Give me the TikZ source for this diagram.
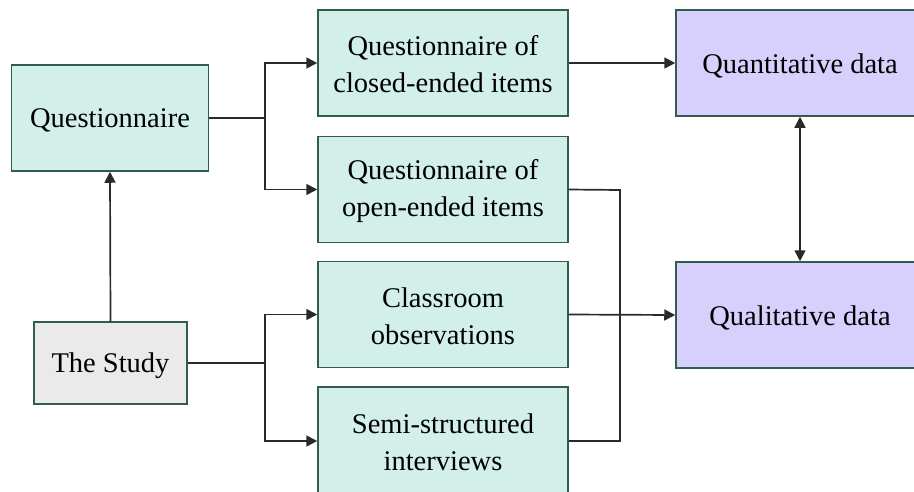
\documentclass[tikz,border=0pt]{standalone}
\usepackage{fontspec}
\setmainfont{Liberation Serif}
\usetikzlibrary{arrows.meta}
\definecolor{tealfill}{HTML}{D2EFEA}
\definecolor{purpfill}{HTML}{D8D0FC}
\definecolor{greyfill}{HTML}{EAEAEA}
\definecolor{boxline}{HTML}{2F5D4F}
\definecolor{conline}{HTML}{2A2A2A}
\tikzset{
  box/.style={draw=boxline, line width=1.5pt, rectangle, inner sep=0pt},
  txt/.style={align=center, inner sep=0pt, yshift=-2.5pt,
    font=\fontsize{28.5}{37}\selectfont, text=black},
  txttwo/.style={txt, yshift=1pt},
  tbox/.style={box, fill=tealfill, minimum width=250pt, minimum height=106pt},
  pbox/.style={box, fill=purpfill, minimum width=248pt, minimum height=106pt},
  conn/.style={draw=conline, line width=1.7pt},
  arr/.style={conn, -{Triangle[length=11pt,width=11pt]}},
  darr/.style={conn, {Triangle[length=11pt,width=11pt]}-{Triangle[length=11pt,width=11pt]}}
}
\begin{document}
\begin{tikzpicture}[x=1pt,y=-1pt]
\useasboundingbox (0,0) rectangle (914,491);
\clip (0,0) rectangle (914,491);
\node[tbox, minimum width=197pt, minimum height=106pt,
  label={[txt]center:Questionnaire}] (q) at (110,118) {};
\node[box, fill=greyfill, minimum width=153pt, minimum height=82pt,
  label={[txt]center:The Study}] (s) at (110.5,363) {};
\node[tbox, label={[txttwo]center:{Questionnaire of\\closed-ended items}}] (qc) at (443,63) {};
\node[tbox, label={[txttwo]center:{Questionnaire of\\open-ended items}}] (qo) at (443,189.5) {};
\node[tbox, label={[txttwo]center:{Classroom\\observations}}] (co) at (443,314.5) {};
\node[tbox, minimum height=108pt, label={[txttwo]center:{Semi-structured\\interviews}}] (si) at (443,441) {};
\node[pbox, label={[txt]center:Quantitative data}] (qn) at (800,63) {};
\node[pbox, label={[txt]center:Qualitative data}] (ql) at (800,315) {};
\coordinate (j1) at (265,118);
\coordinate (j2) at (265,363);
\coordinate (j3) at (620,190);
\draw[conn] (q.east) -- (j1);
\draw[arr] (j1) |- (qc.west);
\draw[arr] (j1) |- (qo.west);
\draw[conn] (s.east) -- (j2);
\draw[arr] (j2) |- (co.west);
\draw[arr] (j2) |- (si.west);
\draw[arr] (s.north) -- (q.south);
\draw[arr] (qc.east) -- (qn.west);
\draw[arr] (co.east) -- (ql.west);
\draw[conn] (qo.east) -- (j3) |- (si.east);
\draw[darr] (qn.south) -- (ql.north);
\end{tikzpicture}
\end{document}
